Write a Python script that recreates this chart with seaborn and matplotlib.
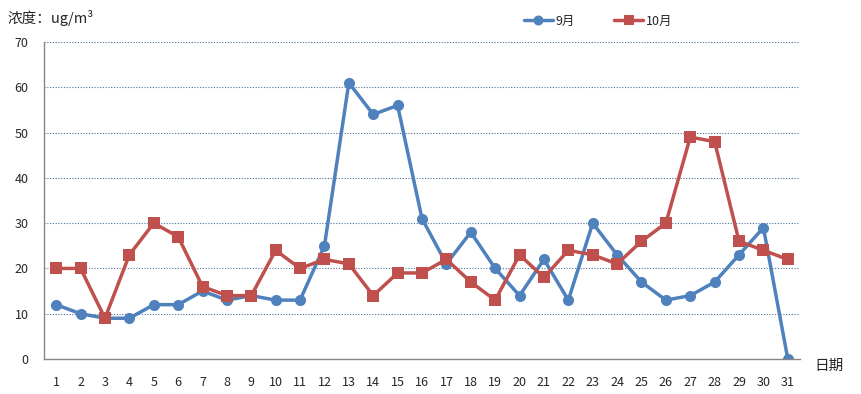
import numpy as np
import pandas as pd
import matplotlib
matplotlib.use("Agg")
import matplotlib.pyplot as plt
import seaborn as sns

# daily concentration readings
days = list(range(1, 32))
sep_values = [12, 10, 9, 9, 12, 12, 15, 13, 14, 13, 13, 25, 61, 54, 56, 31,
              21, 28, 20, 14, 22, 13, 30, 23, 17, 13, 14, 17, 23, 29, 0]
oct_values = [20, 20, 9, 23, 30, 27, 16, 14, 14, 24, 20, 22, 21, 14, 19, 19,
              22, 17, 13, 23, 18, 24, 23, 21, 26, 30, 49, 48, 26, 24, 22]
series_names = ["9月", "10月"]
y_ticks = [0, 10, 20, 30, 40, 50, 60, 70]

df = pd.DataFrame({"day": days * 2,
                   "value": sep_values + oct_values,
                   "month": [series_names[0]] * 31 + [series_names[1]] * 31})

sns.set_style("white")
plt.rcParams['font.family'] = ['Noto Sans CJK SC', 'DejaVu Sans']

fig = plt.figure(figsize=(8.62, 3.94), dpi=100)
ax = fig.add_axes([44 / 862, 1 - 359 / 394, (800 - 44) / 862, (359 - 42) / 394])

sns.lineplot(data=df, x="day", y="value", hue="month", style="month",
             palette=["#4F81BD", "#C0504D"], markers=["o", "s"], dashes=False,
             markersize=8, linewidth=2.5, markeredgewidth=0, ax=ax)

ax.set_xlim(0.5, 31.5)
ax.set_ylim(0, 70)
ax.set_yticks(y_ticks)
ax.set_yticklabels([str(t) for t in y_ticks], fontsize=9)
ax.set_xticks(days)
ax.set_xticklabels([str(d) for d in days], fontsize=9)
ax.set_xticks(np.arange(0.5, 32, 1), minor=True)
ax.tick_params(axis="x", which="major", length=0, pad=12)
ax.tick_params(axis="x", which="minor", length=5, color="#868686", direction="out")
ax.tick_params(axis="y", length=5, color="#868686", direction="out", pad=6)
ax.grid(False)
for t in y_ticks[1:]:
    ax.axhline(t, color="#4a6f9c", linestyle=(0, (1, 1.5)), linewidth=0.8, zorder=0)

for side in ["top", "right"]:
    ax.spines[side].set_visible(False)
for side in ["left", "bottom"]:
    ax.spines[side].set_color("#868686")
    ax.spines[side].set_linewidth(1)

ax.set_xlabel("")
ax.set_ylabel("")
fig.text(8 / 862, 1 - 18 / 394, "浓度：ug/m³", fontsize=10.5, va="center", ha="left")
fig.text(814 / 862, 1 - 366 / 394, "日期", fontsize=10.5, va="center", ha="left")

handles, labels = ax.get_legend_handles_labels()
ax.legend(handles, labels, loc="center", bbox_to_anchor=(598 / 862, 1 - 21 / 394),
          bbox_transform=fig.transFigure, ncol=2, frameon=False, fontsize=9,
          handlelength=2.3, columnspacing=3.2, handletextpad=0.2, markerscale=0.9)

fig.savefig("out.png", dpi=100)
